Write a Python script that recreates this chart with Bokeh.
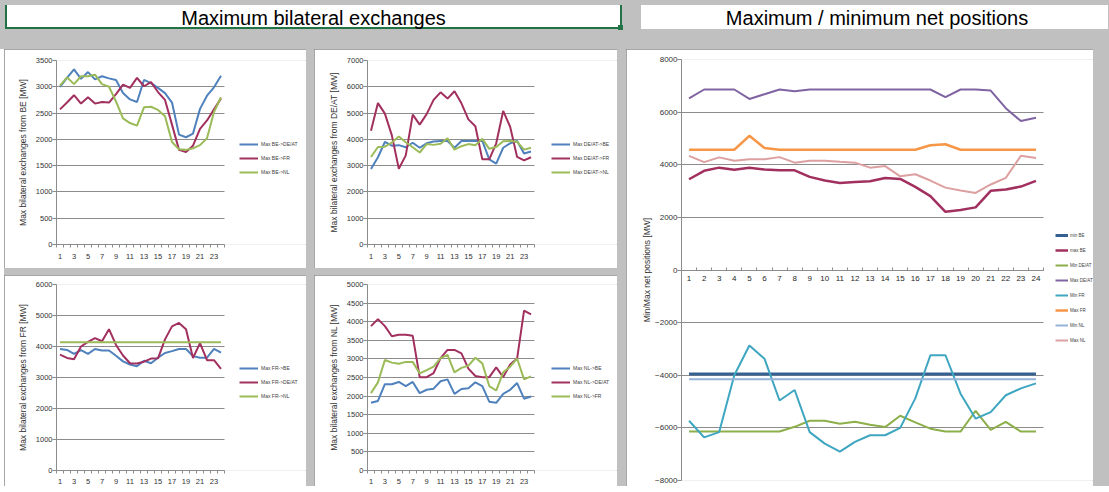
from bokeh.plotting import figure
from bokeh.models import Range1d, FixedTicker, Div, Spacer, Legend, LegendItem
from bokeh.layouts import row, column
from bokeh.embed import file_html
from bokeh.resources import INLINE

# ---------------- data ----------------
HOURS = list(range(1, 25))
SMALL_X_LABELS = [1, 3, 5, 7, 9, 11, 13, 15, 17, 19, 21, 23]
HOUR_BOUNDS = [h - 0.5 for h in HOURS] + [24.5]

BE_YTICKS = [0, 500, 1000, 1500, 2000, 2500, 3000, 3500]
DEAT_YTICKS = [0, 1000, 2000, 3000, 4000, 5000, 6000, 7000]
FR_YTICKS = [0, 1000, 2000, 3000, 4000, 5000, 6000]
NL_YTICKS = [0, 500, 1000, 1500, 2000, 2500, 3000, 3500, 4000, 4500, 5000]
NET_YTICKS = [-8000, -6000, -4000, -2000, 0, 2000, 4000, 6000, 8000]

BE_DEAT = [3000, 3170, 3330, 3150, 3280, 3140, 3200, 3160, 3130, 2880, 2760, 2710,
           3130, 3070, 2980, 2880, 2700, 2090, 2040, 2110, 2580, 2830, 2990, 3210]
BE_FR = [2570, 2700, 2840, 2680, 2800, 2680, 2710, 2700, 2860, 3040, 2980, 3170,
         3010, 3090, 2900, 2750, 2280, 1800, 1760, 1880, 2200, 2360, 2570, 2780]
BE_NL = [3020, 3180, 3050, 3200, 3200, 3230, 3050, 3000, 2720, 2400, 2310, 2260,
         2610, 2620, 2560, 2440, 1950, 1810, 1800, 1830, 1890, 2020, 2520, 2800]

DEAT_BE = [2870, 3320, 3900, 3760, 3780, 3700, 3870, 3680, 3850, 3920, 3940, 3940,
           3680, 3940, 3940, 3940, 3940, 3240, 3080, 3680, 3850, 3940, 3460, 3540]
DEAT_FR = [4330, 5380, 4980, 4150, 2880, 3390, 4940, 4560, 4960, 5500, 5790, 5550,
           5830, 5370, 4760, 4500, 3240, 3240, 3850, 5080, 4480, 3330, 3200, 3320]
DEAT_NL = [3330, 3710, 3720, 3880, 4110, 3890, 3700, 3500, 3820, 3790, 3830, 4040,
           3610, 3740, 3820, 3780, 4020, 3640, 3710, 3930, 3940, 3910, 3610, 3680]

FR_BE = [3920, 3890, 3760, 3880, 3760, 3920, 3870, 3870, 3700, 3520, 3420, 3360,
         3540, 3460, 3640, 3790, 3850, 3920, 3920, 3690, 3640, 3640, 3920, 3800]
FR_DEAT = [3740, 3630, 3590, 4000, 4150, 4270, 4170, 4560, 4050, 3710, 3460, 3450,
           3510, 3610, 3620, 4230, 4650, 4760, 4560, 3630, 4110, 3560, 3560, 3280]
FR_NL = [4140, 4140, 4140, 4140, 4140, 4140, 4140, 4140, 4140, 4140, 4140, 4140,
         4140, 4140, 4140, 4140, 4140, 4140, 4140, 4140, 4140, 4140, 4140, 4140]

NL_BE = [1820, 1870, 2320, 2320, 2380, 2270, 2380, 2080, 2170, 2200, 2400, 2450,
         2060, 2190, 2210, 2370, 2270, 1850, 1820, 2060, 2170, 2350, 1930, 1990]
NL_DEAT = [3880, 4070, 3880, 3610, 3650, 3650, 3620, 2510, 2510, 2620, 3020, 3240,
           3240, 3150, 2740, 2540, 2510, 2510, 2770, 2510, 2850, 3010, 4300, 4200]
NL_FR = [2080, 2370, 2970, 2900, 2870, 2920, 2920, 2610, 2700, 2790, 3020, 3110,
         2640, 2760, 2820, 3030, 2880, 2270, 2150, 2640, 2790, 3010, 2450, 2530]

MIN_BE = [-3950] * 24
MAX_BE = [3450, 3770, 3890, 3810, 3890, 3820, 3790, 3790, 3540, 3400, 3310, 3340,
          3370, 3500, 3460, 3160, 2810, 2210, 2280, 2380, 3010, 3060, 3170, 3390]
MIN_DEAT = [-6140, -6140, -6140, -6140, -6140, -6140, -6140, -5960, -5730, -5730, -5840, -5770,
            -5880, -5970, -5540, -5790, -6030, -6140, -6140, -5350, -6080, -5770, -6140, -6140]
MAX_DEAT = [6520, 6860, 6860, 6860, 6500, 6680, 6860, 6790, 6860, 6860, 6860, 6860,
            6860, 6860, 6860, 6860, 6860, 6570, 6860, 6860, 6820, 6150, 5660, 5790]
MIN_FR = [-5730, -6360, -6160, -4000, -2870, -3370, -4960, -4560, -6160, -6600, -6900, -6530,
          -6280, -6280, -6000, -4880, -3240, -3240, -4700, -5650, -5400, -4760, -4500, -4310]
MAX_FR = [4570, 4570, 4570, 4570, 5100, 4640, 4570, 4570, 4570, 4570, 4570, 4570,
          4570, 4570, 4570, 4570, 4740, 4780, 4570, 4570, 4570, 4570, 4570, 4570]
MIN_NL = [-4150] * 24
MAX_NL = [4340, 4100, 4280, 4150, 4210, 4210, 4290, 4080, 4150, 4150, 4110, 4080,
          3890, 3950, 3560, 3640, 3400, 3130, 3020, 2930, 3250, 3500, 4340, 4260]

# ---------------- styling ----------------
BLUE = "#4F81BD"
CRIMSON = "#A2305F"
GREEN = "#9BBB59"
GRID = "#8C8C8C"
TEXT = "#333333"
FONT = "Liberation Sans"
BG = "#C0C0C0"
X_LO, X_HI = HOUR_BOUNDS[0], HOUR_BOUNDS[-1]
PANEL_STYLE = {"outline": "1px solid #8a8a8a", "outline-offset": "-1px"}


def base_fig(w, h, bl, bt, bb, plot_w, yticks):
    # frame spans plot area + legend area; the plot area is plot_w px wide
    frame_w = w - bl
    x_end = X_LO + (X_HI - X_LO) * frame_w / plot_w
    p = figure(width=w, height=h, x_range=Range1d(X_LO, x_end),
               y_range=Range1d(yticks[0], yticks[-1]),
               output_backend="svg", toolbar_location=None,
               min_border_left=bl, min_border_right=0,
               min_border_top=bt, min_border_bottom=bb,
               background_fill_color="white", border_fill_color="white",
               outline_line_color=None, styles=PANEL_STYLE)
    p.title.visible = False
    p.xgrid.visible = False
    g = p.ygrid[0]
    g.ticker = FixedTicker(ticks=yticks)
    g.grid_line_color = GRID
    g.grid_line_width = 1
    if "cross_bounds" in g.properties():
        g.cross_bounds = (X_LO, X_HI)
    else:
        g.visible = False
        p.segment(x0=[X_LO] * len(yticks), y0=yticks, x1=[X_HI] * len(yticks), y1=yticks,
                  line_color=GRID, line_width=1, level="underlay")
    ax = p.yaxis[0]
    ax.ticker = FixedTicker(ticks=yticks)
    ax.axis_line_color = GRID
    ax.major_tick_line_color = GRID
    ax.major_tick_out = 4
    ax.major_tick_in = 0
    ax.minor_tick_line_color = None
    ax.major_label_text_color = TEXT
    ax.major_label_text_font = FONT
    ax.axis_label_text_font = FONT
    ax.axis_label_text_font_style = "normal"
    ax.axis_label_text_color = TEXT
    return p


def style_xaxis(p, labels, size, standoff):
    ax = p.xaxis[0]
    ax.bounds = (X_LO, X_HI)
    ax.ticker = FixedTicker(ticks=labels, minor_ticks=HOUR_BOUNDS)
    ax.axis_line_color = GRID
    ax.major_tick_line_color = None
    ax.major_tick_out = 0
    ax.major_tick_in = 0
    ax.minor_tick_line_color = GRID
    ax.minor_tick_out = 3
    ax.minor_tick_in = 0
    ax.major_label_standoff = standoff
    ax.major_label_text_font = FONT
    ax.major_label_text_font_size = size
    ax.major_label_text_color = TEXT


def add_legend(p, items, loc, spacing, font_size, glyph_w, standoff):
    lg = Legend(items=items, location=loc, margin=0, padding=0, spacing=spacing,
                label_height=10, glyph_height=10, glyph_width=glyph_w,
                label_standoff=standoff, border_line_color=None, background_fill_alpha=0,
                label_text_font=FONT, label_text_font_size=font_size,
                label_text_color="#404040")
    p.add_layout(lg, "center")


def small_chart(w, h, bl, bt, bb, plot_w, yticks, ylabel, series, leg_loc, xstand):
    p = base_fig(w, h, bl, bt, bb, plot_w, yticks)
    items = []
    for label, vals, color in series:
        r = p.line(HOURS, vals, line_color=color, line_width=2)
        items.append(LegendItem(label=label, renderers=[r]))
    ax = p.yaxis[0]
    ax.axis_label = ylabel
    ax.axis_label_text_font_size = "8.5px"
    ax.axis_label_standoff = 5
    ax.major_label_text_font_size = "7.5px"
    ax.major_label_standoff = 0
    style_xaxis(p, SMALL_X_LABELS, "7.5px", xstand)
    add_legend(p, items, leg_loc, 4, "5px", 19, 3)
    return p


p_be = small_chart(302, 219, 52, 11, 24, 168, BE_YTICKS,
                   "Max bilateral exchanges from BE [MW]",
                   [("Max BE->DE/AT", BE_DEAT, BLUE), ("Max BE->FR", BE_FR, CRIMSON),
                    ("Max BE->NL", BE_NL, GREEN)], (183, 67), 6)
p_deat = small_chart(303, 219, 53, 11, 24, 167, DEAT_YTICKS,
                     "Max bilateral exchanges from DE/AT [MW]",
                     [("Max DE/AT->BE", DEAT_BE, BLUE), ("Max DE/AT->FR", DEAT_FR, CRIMSON),
                      ("Max DE/AT->NL", DEAT_NL, GREEN)], (184, 67), 6)
p_fr = small_chart(302, 211, 52, 9, 15, 168, FR_YTICKS,
                   "Max bilateral exchanges from FR [MW]",
                   [("Max FR->BE", FR_BE, BLUE), ("Max FR->DE/AT", FR_DEAT, CRIMSON),
                    ("Max FR->NL", FR_NL, GREEN)], (183, 69), 5)
p_nl = small_chart(303, 211, 53, 9, 15, 167, NL_YTICKS,
                   "Max bilateral exchanges from NL [MW]",
                   [("Max NL->BE", NL_BE, BLUE), ("Max NL->DE/AT", NL_DEAT, CRIMSON),
                    ("Max NL->FR", NL_FR, GREEN)], (184, 69), 5)

# big chart
p_net = base_fig(467, 437, 55, 10, 6, 362, NET_YTICKS)
net_series = [
    ("min BE", MIN_BE, "#376092", 3),
    ("max BE", MAX_BE, CRIMSON, 2.5),
    ("Min DE/AT", MIN_DEAT, "#8CAF4A", 2),
    ("Max DE/AT", MAX_DEAT, "#8064A2", 2),
    ("Min FR", MIN_FR, "#3EA6C0", 2),
    ("Max FR", MAX_FR, "#F79646", 2.5),
    ("Min NL", MIN_NL, "#95B3D7", 2),
    ("Max NL", MAX_NL, "#DDA0A0", 2),
]
net_items = []
for label, vals, color, lw in net_series:
    r = p_net.line(HOURS, vals, line_color=color, line_width=lw)
    net_items.append(LegendItem(label=label, renderers=[r]))
ay = p_net.yaxis[0]
ay.axis_label = "Min/Max net positions [MW]"
ay.axis_label_text_font_size = "8.5px"
ay.axis_label_standoff = 0
ay.major_label_text_font_size = "8px"
ay.major_label_standoff = 0
style_xaxis(p_net, HOURS, "8px", 6)
ax_net = p_net.xaxis[0]
ax_net.fixed_location = 0
ax_net.minor_tick_in = 3
ax_net.minor_tick_out = 0
ax_net.level = "overlay"
ax_net.major_label_text_color = "#262626"
add_legend(p_net, net_items, (374, 135), 5, "4.5px", 13, 2)

# headers
GREEN_SEL = "#217346"
left_header = Div(
    text=('<div style="position:relative;width:617px;height:24px;box-sizing:border-box;'
          f'border-left:2px solid {GREEN_SEL};border-right:2px solid {GREEN_SEL};'
          f'border-bottom:2px solid {GREEN_SEL};background:#ffffff;padding-top:4px;'
          "font-family:'Liberation Sans';font-size:20px;line-height:18px;text-align:center;color:#000;\">"
          'Maximum bilateral exchanges'
          f'<span style="position:absolute;right:-3px;bottom:-3px;width:5px;height:5px;background:{GREEN_SEL};"></span>'
          '</div>'),
    width=617, height=24)
right_header = Div(
    text=('<div style="width:467px;height:24px;box-sizing:border-box;background:#ffffff;'
          "padding-top:4px;padding-left:5px;font-family:'Liberation Sans';font-size:20px;"
          'line-height:18px;text-align:center;color:#000;">'
          'Maximum / minimum net positions</div>'),
    width=467, height=24)

header_row = row(left_header, Spacer(width=9, height=24), right_header)
gap_band = Spacer(width=1093, height=15)
left_block = column(
    row(p_be, Spacer(width=8, height=219), p_deat),
    Spacer(width=613, height=7),
    row(p_fr, Spacer(width=8, height=211), p_nl),
)
body_row = row(Spacer(width=4, height=437, styles={"background-color": "#ffffff"}),
               left_block, Spacer(width=9, height=437), p_net)
root = column(header_row, gap_band, body_row, styles={"background-color": BG})

open("out.html", "w").write(file_html(root, INLINE))
